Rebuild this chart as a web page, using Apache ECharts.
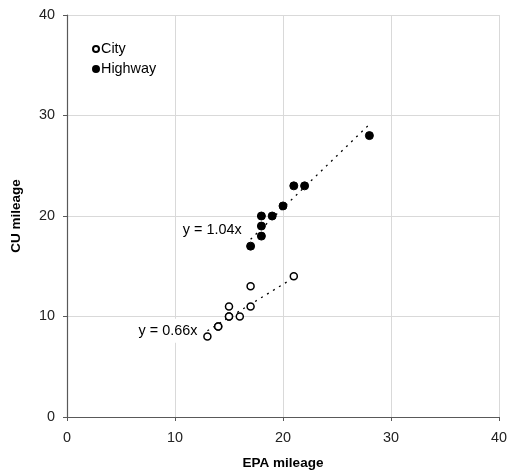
<!DOCTYPE html>
<html>
<head>
<meta charset="utf-8">
<script src="https://cdn.jsdelivr.net/npm/echarts@6/dist/echarts.min.js"></script>
<style>html,body{margin:0;padding:0;background:#fff}#c{width:509px;height:472px}</style>
</head>
<body>
<div id="c"></div>
<script>
// Data
const cityEPA = [13, 14, 14, 15, 15, 15, 16, 17, 17, 21];
const cityCU  = [8, 9, 9, 10, 10, 11, 10, 11, 13, 14];
const hwyEPA  = [17, 18, 18, 18, 19, 20, 21, 22, 28];
const hwyCU   = [17, 18, 19, 20, 20, 21, 23, 23, 28];
const citySlope = 0.66;
const hwySlope = 1.04;
const axisTicks = [0, 10, 20, 30, 40];

function pairs(xs, ys) { return xs.map((x, i) => [x, ys[i]]); }
function trend(xs, k) {
  const lo = Math.min(...xs), hi = Math.max(...xs);
  return [[lo, k * lo], [hi, k * hi]];
}

const font = 'Liberation Sans, Arial, sans-serif';
const fs = 14.4;
const chart = echarts.init(document.getElementById('c'), null, {renderer: 'canvas'});

const axisCommon = {
  min: axisTicks[0], max: axisTicks[axisTicks.length - 1], interval: 10,
  axisLine: {show: true, lineStyle: {color: '#595959', width: 1.2}},
  axisTick: {show: true, length: 4, lineStyle: {color: '#595959'}},
  splitLine: {show: true, lineStyle: {color: '#d9d9d9', width: 1}},
  axisLabel: {color: '#222', fontFamily: font, fontSize: fs},
  nameLocation: 'middle',
  nameTextStyle: {color: '#000', fontFamily: font, fontSize: 13.5, fontWeight: 'bold'}
};

const labelStyle = {
  show: true, color: '#000', fontFamily: font, fontSize: fs,
  backgroundColor: '#fff', padding: [5, 4, 5, 4]
};

chart.setOption({
  animation: false,
  backgroundColor: '#fff',
  grid: {left: 67, right: 10, top: 15, bottom: 55, containLabel: false, outerBoundsMode: 'none'},
  legend: {
    orient: 'vertical', left: 92, top: 42, itemGap: 6,
    itemWidth: 6, itemHeight: 6, padding: 0,
    textStyle: {color: '#000', fontFamily: font, fontSize: fs, lineHeight: 14, padding: [0, 0, 0, -3]},
    data: [{name: 'City', icon: 'circle'}, {name: 'Highway', icon: 'circle'}]
  },
  xAxis: Object.assign({}, axisCommon, {
    type: 'value', name: 'EPA mileage', nameGap: 39,
    axisLabel: Object.assign({}, axisCommon.axisLabel, {margin: 14})
  }),
  yAxis: Object.assign({}, axisCommon, {
    type: 'value', name: 'CU mileage', nameGap: 44,
    axisLabel: Object.assign({}, axisCommon.axisLabel, {margin: 12})
  }),
  series: [
    {
      name: 'City trend', type: 'line', data: trend(cityEPA, citySlope),
      symbol: 'none', silent: true, z: 1,
      lineStyle: {color: '#000', width: 1.3, type: [2, 5]},
      markPoint: {
        symbol: 'rect', symbolSize: 0,
        data: [{coord: trend(cityEPA, citySlope)[0], value: 'y = ' + citySlope.toFixed(2) + 'x',
          label: Object.assign({}, labelStyle, {position: 'left', distance: 6, formatter: '{c}', offset: [0, 0]})}]
      }
    },
    {
      name: 'Highway trend', type: 'line', data: trend(hwyEPA, hwySlope),
      symbol: 'none', silent: true, z: 1,
      lineStyle: {color: '#000', width: 1.3, type: [2, 5]},
      markPoint: {
        symbol: 'rect', symbolSize: 0,
        data: [{coord: trend(hwyEPA, hwySlope)[0], value: 'y = ' + hwySlope.toFixed(2) + 'x',
          label: Object.assign({}, labelStyle, {position: 'left', distance: 5, formatter: '{c}', offset: [0, -9]})}]
      }
    },
    {
      name: 'City', type: 'scatter', data: pairs(cityEPA, cityCU),
      symbol: 'circle', symbolSize: 7, z: 3,
      itemStyle: {color: '#fff', borderColor: '#000', borderWidth: 1.5, opacity: 1}
    },
    {
      name: 'Highway', type: 'scatter', data: pairs(hwyEPA, hwyCU),
      symbol: 'circle', symbolSize: 8, z: 3,
      itemStyle: {color: '#000', borderColor: '#000', borderWidth: 1, opacity: 1}
    }
  ]
});
</script>
</body>
</html>
